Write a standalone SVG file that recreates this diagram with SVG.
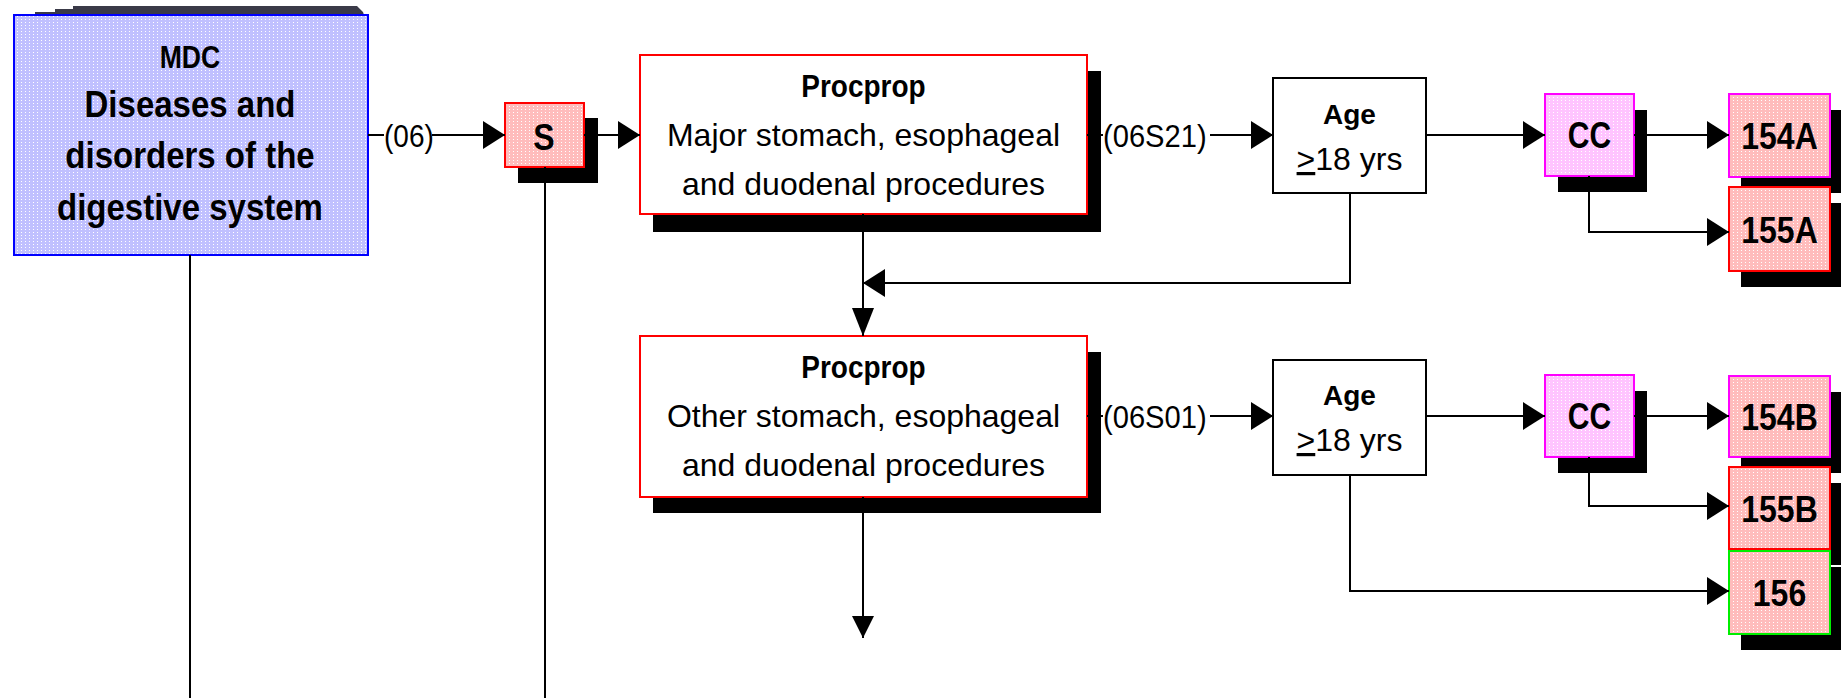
<svg xmlns="http://www.w3.org/2000/svg" width="1841" height="698" viewBox="0 0 1841 698">
  <style>
    text { font-family: "Liberation Sans", Arial, sans-serif; fill: #000; }
    .b { font-weight: bold; }
    .mid { text-anchor: middle; }
    .conn { fill: none; stroke: #000; stroke-width: 2; }
    .shadow { fill: #000; }
    .lbl { font-size: 28px; }
    .body { font-size: 32px; }
  </style>
  <defs>
    <pattern id="dPink" width="4" height="3" patternUnits="userSpaceOnUse">
      <rect width="4" height="3" fill="#ffbcbc"/>
      <rect x="1" y="1" width="1" height="1" fill="#ffffff"/>
    </pattern>
    <pattern id="dBlue" width="4" height="3" patternUnits="userSpaceOnUse">
      <rect width="4" height="3" fill="#c0c0ff"/>
      <rect x="1" y="1" width="1" height="1" fill="#ffffff"/>
    </pattern>
    <pattern id="dMag" width="4" height="3" patternUnits="userSpaceOnUse">
      <rect width="4" height="3" fill="#ffc4ff"/>
      <rect x="1" y="1" width="1" height="1" fill="#ffffff"/>
    </pattern>
    <marker id="ah" markerUnits="userSpaceOnUse" markerWidth="22" markerHeight="28" refX="22" refY="14" orient="auto">
      <path d="M0,0 L22,14 L0,28 z" fill="#000"/>
    </marker>
    <marker id="av" markerUnits="userSpaceOnUse" markerWidth="28" markerHeight="22" refX="28" refY="11" orient="auto">
      <path d="M0,0 L28,11 L0,22 z" fill="#000"/>
    </marker>
    <marker id="av2" markerUnits="userSpaceOnUse" markerWidth="22" markerHeight="22" refX="22" refY="11" orient="auto">
      <path d="M0,0 L22,11 L0,22 z" fill="#000"/>
    </marker>
  </defs>
  <rect width="1841" height="698" fill="#ffffff"/>

  <g id="mdc">
    <polygon points="35,15 35,12 55,12 55,9 73,9 73,6 357,6 363,12 364,15" fill="#3a3a48"/>
    <rect x="14" y="15" width="354" height="240" fill="url(#dBlue)" stroke="#0000ff" stroke-width="2"/>
    <text class="b mid" font-size="28" transform="translate(190,68) scale(0.95,1.15)">MDC</text>
    <text class="b mid" font-size="33" transform="translate(190,117) scale(1,1.13)">Diseases and</text>
    <text class="b mid" font-size="33" transform="translate(190,168) scale(1,1.13)">disorders of the</text>
    <text class="b mid" font-size="33" transform="translate(190,220) scale(1,1.13)">digestive system</text>
  </g>

  <g id="s">
    <rect class="shadow" x="518" y="118" width="80" height="65"/>
    <rect x="505" y="103" width="79" height="64" fill="url(#dPink)" stroke="#ff0000" stroke-width="2"/>
    <text class="b mid" font-size="32" transform="translate(544,150) scale(1,1.18)">S</text>
  </g>

  <g id="procprop1">
    <rect class="shadow" x="653" y="71" width="448" height="161"/>
    <rect x="640" y="55" width="447" height="159" fill="#ffffff" stroke="#ff0000" stroke-width="2"/>
    <text class="b mid" font-size="28" transform="translate(863.5,97) scale(1,1.1)">Procprop</text>
    <text class="body mid" x="863.5" y="146">Major stomach, esophageal</text>
    <text class="body mid" x="863.5" y="195">and duodenal procedures</text>
  </g>

  <g id="age1">
    <rect x="1273" y="78" width="153" height="115" fill="#ffffff" stroke="#000" stroke-width="2"/>
    <text class="b mid" font-size="28" x="1349.5" y="124">Age</text>
    <text class="mid" font-size="32" x="1349.5" y="170"><tspan text-decoration="underline">&gt;</tspan>18 yrs</text>
  </g>

  <g id="cc1">
    <rect class="shadow" x="1558" y="110" width="89" height="82"/>
    <rect x="1545" y="94" width="89" height="82" fill="url(#dMag)" stroke="#ff00ff" stroke-width="2"/>
    <text class="b mid" font-size="30" transform="translate(1589.5,148) scale(1,1.25)">CC</text>
  </g>

  <g id="n154a">
    <rect class="shadow" x="1741" y="110" width="101" height="83"/>
    <rect x="1729" y="94" width="101" height="83" fill="url(#dPink)" stroke="#ff00ff" stroke-width="2"/>
    <text class="b mid" font-size="32" transform="translate(1779.5,149) scale(1,1.18)">154A</text>
  </g>

  <g id="n155a">
    <rect class="shadow" x="1741" y="203" width="101" height="84"/>
    <rect x="1729" y="187" width="101" height="84" fill="url(#dPink)" stroke="#ff0000" stroke-width="2"/>
    <text class="b mid" font-size="32" transform="translate(1779.5,243) scale(1,1.18)">155A</text>
  </g>

  <g id="procprop2">
    <rect class="shadow" x="653" y="352" width="448" height="161"/>
    <rect x="640" y="336" width="447" height="161" fill="#ffffff" stroke="#ff0000" stroke-width="2"/>
    <text class="b mid" font-size="28" transform="translate(863.5,378) scale(1,1.1)">Procprop</text>
    <text class="body mid" x="863.5" y="427">Other stomach, esophageal</text>
    <text class="body mid" x="863.5" y="476">and duodenal procedures</text>
  </g>

  <g id="age2">
    <rect x="1273" y="360" width="153" height="115" fill="#ffffff" stroke="#000" stroke-width="2"/>
    <text class="b mid" font-size="28" x="1349.5" y="405">Age</text>
    <text class="mid" font-size="32" x="1349.5" y="451"><tspan text-decoration="underline">&gt;</tspan>18 yrs</text>
  </g>

  <g id="cc2">
    <rect class="shadow" x="1558" y="391" width="89" height="82"/>
    <rect x="1545" y="375" width="89" height="82" fill="url(#dMag)" stroke="#ff00ff" stroke-width="2"/>
    <text class="b mid" font-size="30" transform="translate(1589.5,429) scale(1,1.25)">CC</text>
  </g>

  <g id="n154b">
    <rect class="shadow" x="1741" y="392" width="101" height="81"/>
    <rect x="1729" y="376" width="101" height="81" fill="url(#dPink)" stroke="#ff00ff" stroke-width="2"/>
    <text class="b mid" font-size="32" transform="translate(1779.5,430) scale(1,1.18)">154B</text>
  </g>

  <g id="n155b">
    <rect class="shadow" x="1741" y="483" width="101" height="82"/>
    <rect x="1729" y="467" width="101" height="82" fill="url(#dPink)" stroke="#ff0000" stroke-width="2"/>
    <text class="b mid" font-size="32" transform="translate(1779.5,522) scale(1,1.18)">155B</text>
  </g>

  <g id="n156">
    <rect class="shadow" x="1741" y="567" width="101" height="83"/>
    <rect x="1729" y="551" width="101" height="83" fill="url(#dPink)" stroke="#00ee00" stroke-width="2"/>
    <text class="b mid" font-size="32" transform="translate(1779.5,606) scale(1,1.18)">156</text>
  </g>

  <g id="connectors">
    <path class="conn" d="M190,255 V698"/>
    <path class="conn" d="M545,167 V698"/>
    <path class="conn" d="M368,135 H384"/>
    <text class="lbl" transform="translate(384,147) scale(1,1.1)">(06)</text>
    <path class="conn" d="M432,135 H505" marker-end="url(#ah)"/>
    <path class="conn" d="M584,135 H640" marker-end="url(#ah)"/>
    <path class="conn" d="M1087,135 H1103"/>
    <text class="lbl" transform="translate(1103,147) scale(1.04,1.1)">(06S21)</text>
    <path class="conn" d="M1210,135 H1273" marker-end="url(#ah)"/>
    <path class="conn" d="M1426,135 H1545" marker-end="url(#ah)"/>
    <path class="conn" d="M1634,135 H1729" marker-end="url(#ah)"/>
    <path class="conn" d="M1589,176 V232 H1729" marker-end="url(#ah)"/>
    <path class="conn" d="M1350,193 V283 H863" marker-end="url(#ah)"/>
    <path class="conn" d="M863,214 V336" marker-end="url(#av)"/>
    <path class="conn" d="M1087,416 H1103"/>
    <text class="lbl" transform="translate(1103,428) scale(1.04,1.1)">(06S01)</text>
    <path class="conn" d="M1210,416 H1273" marker-end="url(#ah)"/>
    <path class="conn" d="M1426,416 H1545" marker-end="url(#ah)"/>
    <path class="conn" d="M1634,416 H1729" marker-end="url(#ah)"/>
    <path class="conn" d="M1589,457 V506 H1729" marker-end="url(#ah)"/>
    <path class="conn" d="M1350,475 V591 H1729" marker-end="url(#ah)"/>
    <path class="conn" d="M863,497 V638" marker-end="url(#av2)"/>
  </g>
</svg>
